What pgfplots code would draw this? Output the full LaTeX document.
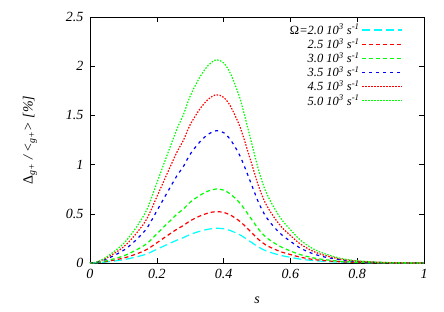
\documentclass[border=0pt]{standalone}
\usepackage{pgfplots}
\pgfplotsset{compat=1.18}
\usepackage{pgfplotstable}
\usepackage{fontspec}
\setmainfont{Liberation Serif}

\pgfplotstableread{
s     c     rd    gd    b     ro    go
0.000 0.000 0.000 0.000 0.000 0.000 0.000
0.020 0.002 0.003 0.004 0.007 0.009 0.010
0.050 0.011 0.016 0.023 0.040 0.051 0.062
0.090 0.028 0.042 0.060 0.108 0.137 0.165
0.110 0.040 0.059 0.085 0.152 0.193 0.233
0.140 0.063 0.093 0.135 0.241 0.306 0.370
0.170 0.092 0.137 0.197 0.352 0.448 0.541
0.200 0.139 0.205 0.296 0.529 0.672 0.812
0.230 0.186 0.275 0.396 0.709 0.901 1.088
0.260 0.232 0.343 0.495 0.885 1.125 1.359
0.280 0.258 0.382 0.550 0.983 1.250 1.510
0.300 0.290 0.429 0.618 1.106 1.406 1.697
0.330 0.324 0.479 0.690 1.235 1.570 1.896
0.355 0.344 0.509 0.733 1.311 1.667 2.013
0.378 0.353 0.522 0.752 1.345 1.710 2.065
0.400 0.348 0.514 0.741 1.325 1.684 2.034
0.420 0.330 0.488 0.702 1.256 1.597 1.929
0.445 0.293 0.433 0.624 1.116 1.419 1.714
0.460 0.263 0.389 0.560 1.002 1.274 1.538
0.475 0.229 0.338 0.487 0.872 1.108 1.338
0.490 0.195 0.288 0.414 0.741 0.942 1.138
0.505 0.161 0.238 0.342 0.612 0.778 0.940
0.525 0.126 0.186 0.268 0.480 0.610 0.737
0.550 0.097 0.144 0.207 0.370 0.470 0.568
0.575 0.074 0.110 0.159 0.284 0.361 0.436
0.600 0.058 0.086 0.123 0.221 0.280 0.339
0.625 0.042 0.063 0.090 0.161 0.205 0.248
0.650 0.031 0.046 0.066 0.118 0.150 0.182
0.675 0.023 0.033 0.048 0.086 0.109 0.132
0.700 0.017 0.025 0.035 0.063 0.080 0.097
0.725 0.012 0.018 0.026 0.046 0.058 0.070
0.750 0.008 0.012 0.017 0.031 0.039 0.047
0.780 0.005 0.008 0.011 0.020 0.026 0.031
0.800 0.004 0.006 0.008 0.015 0.019 0.023
0.850 0.002 0.003 0.004 0.007 0.009 0.010
0.900 0.001 0.001 0.002 0.003 0.003 0.004
0.950 0.000 0.000 0.000 0.001 0.001 0.001
1.000 0.000 0.000 0.000 0.000 0.000 0.000
}\datatab

\begin{document}
\begin{tikzpicture}
\begin{axis}[
  scale only axis,
  width=334pt, height=246pt,
  xmin=0, xmax=1, ymin=0, ymax=2.5,
  xtick={0,0.2,0.4,0.6,0.8,1},
  xticklabels={0,0.2,0.4,0.6,0.8,1},
  ytick={0,0.5,1,1.5,2,2.5},
  yticklabels={0,0.5,1,1.5,2,2.5},
  tick align=inside,
  major tick length=5pt,
  tick style={black, line width=0.6pt},
  axis line style={line width=0.8pt},
  font=\fontsize{14}{16}\selectfont\itshape,
  ticklabel style={font=\fontsize{14}{16}\selectfont\itshape},
  xticklabel style={yshift=-3pt},
  yticklabel style={xshift=-3pt},
  xlabel={s},
  xlabel style={at={(rel axis cs:0.5,0)}, anchor=center, yshift=-37pt},
  ylabel={\textup{Δ}\textsubscript{g+} / <\textsubscript{g+}> [\%]},
  ylabel style={at={(rel axis cs:0,0.5)}, anchor=center, yshift=60pt},
  legend plot pos=right,
  legend cell align=right,
  legend style={at={(1,1)}, anchor=north east, xshift=-18pt, yshift=-3pt,
    draw=none, fill=none, row sep=-1.5pt,
    font=\fontsize{12.5}{15}\selectfont\itshape},
  legend image code/.code={\draw[#1] (0pt,0pt) -- (40pt,0pt);},
  every axis plot/.append style={line width=1.2pt},
]
\addplot[color={rgb,1:red,0;green,1;blue,1}, dash pattern=on 8pt off 4pt, smooth] table[x=s,y=c] {\datatab};
\addlegendentry{\textup{Ω}=2.0 10\textsuperscript{3} s\textsuperscript{-1}}
\addplot[color=red, dash pattern=on 4pt off 3pt, smooth] table[x=s,y=rd] {\datatab};
\addlegendentry{2.5 10\textsuperscript{3} s\textsuperscript{-1}}
\addplot[color={rgb,1:red,0;green,1;blue,0}, dash pattern=on 4pt off 3pt, smooth] table[x=s,y=gd] {\datatab};
\addlegendentry{3.0 10\textsuperscript{3} s\textsuperscript{-1}}
\addplot[color=blue, dash pattern=on 3pt off 4pt, smooth] table[x=s,y=b] {\datatab};
\addlegendentry{3.5 10\textsuperscript{3} s\textsuperscript{-1}}
\addplot[color=red, dash pattern=on 1.5pt off 1.5pt, smooth] table[x=s,y=ro] {\datatab};
\addlegendentry{4.5 10\textsuperscript{3} s\textsuperscript{-1}}
\addplot[color={rgb,1:red,0;green,1;blue,0}, dash pattern=on 1.5pt off 1.5pt, smooth] table[x=s,y=go] {\datatab};
\addlegendentry{5.0 10\textsuperscript{3} s\textsuperscript{-1}}
\coordinate (bl) at (rel axis cs:0,0);
\coordinate (tr) at (rel axis cs:1,1);
\end{axis}
\pgfresetboundingbox
\useasboundingbox ([shift={(-90pt,-48pt)}]bl) rectangle ([shift={(20pt,17pt)}]tr);
\end{tikzpicture}
\end{document}
